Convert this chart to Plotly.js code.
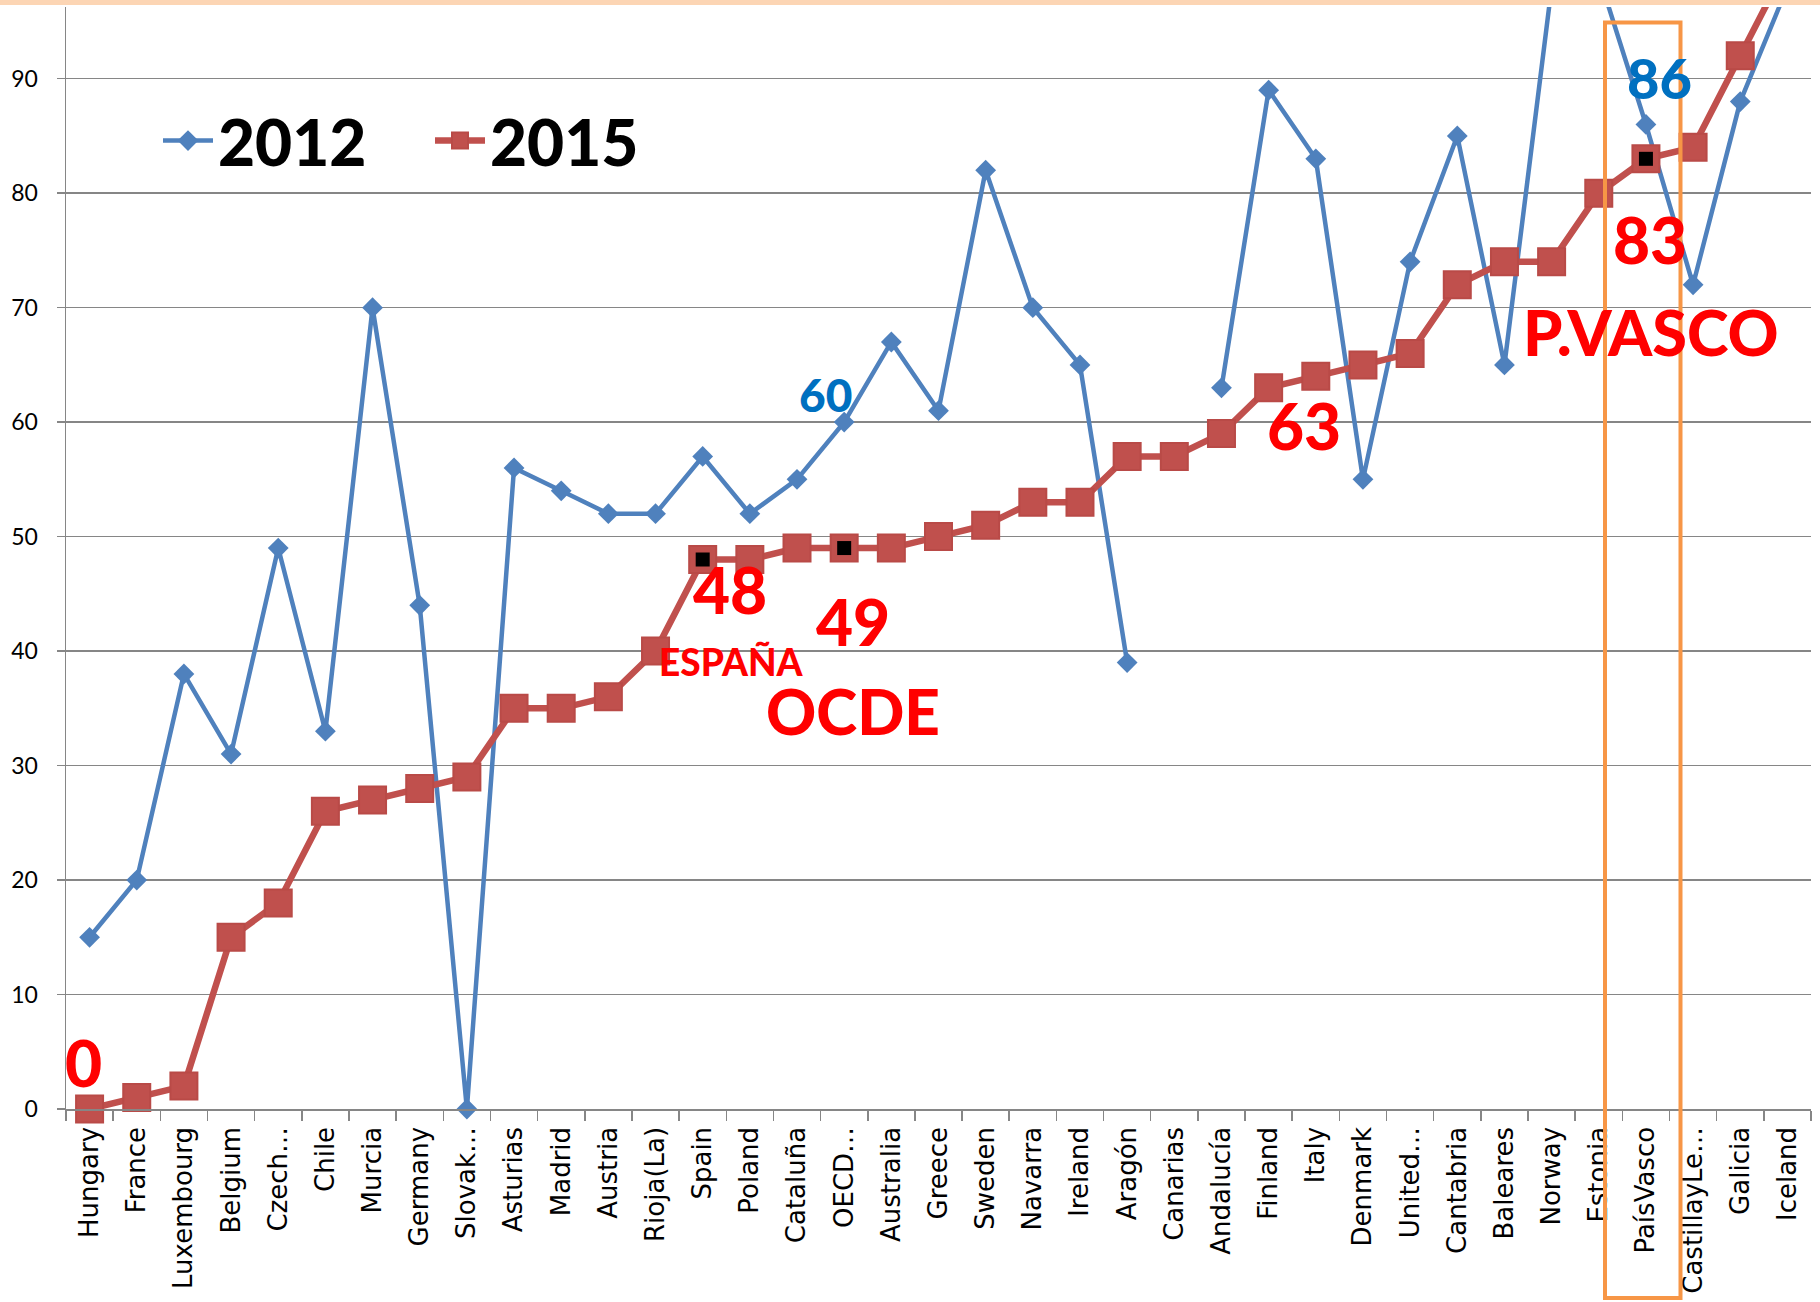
<!DOCTYPE html>
<html>
<head>
<meta charset="utf-8">
<script src="https://cdn.plot.ly/plotly-3.0.1.min.js"></script>
<style>
  html, body { margin: 0; padding: 0; background: #ffffff; }
  #chart { width: 1820px; height: 1302px; }
</style>
</head>
<body>
<div id="chart"></div>
<script>
// ---------------- data ----------------
const categories = ["Hungary","France","Luxembourg","Belgium","Czech…","Chile","Murcia","Germany","Slovak…",
  "Asturias","Madrid","Austria","Rioja(La)","Spain","Poland","Cataluña","OECD…","Australia","Greece","Sweden",
  "Navarra","Ireland","Aragón","Canarias","Andalucía","Finland","Italy","Denmark","United…","Cantabria",
  "Baleares","Norway","Estonia","PaísVasco","CastillayLe…","Galicia","Iceland"];
const values2012 = [15,20,38,31,49,33,70,44,0,56,54,52,52,57,52,55,60,67,61,82,70,65,39,null,63,89,83,55,74,85,65,98,99,86,72,88,98];
const values2015 = [0,1,2,15,18,26,27,28,29,35,35,36,40,48,48,49,49,49,50,51,53,53,57,57,59,63,64,65,66,72,74,74,80,83,84,92,100];
const seriesNames = ["2012", "2015"];
const highlighted = ["Spain", "OECD…", "PaísVasco"];
const yTicks = [0,10,20,30,40,50,60,70,80,90];

// ---------------- styles / geometry ----------------
const W = 1820, H = 1302, L = 66, R = 9, T = 7, B = 193;
const PW = W - L - R, PH = H - T - B;
const px = x => (x - L) / PW;
const py = y => (H - B - y) / PH;
const BLUE = '#4F81BD', RED = '#C0504D', TXTRED = '#FF0000', TXTBLUE = '#0070C0', GRID = '#868686';
const BIG = 'Lato, "Open Sans", sans-serif';

const hiVals = highlighted.map(c => values2015[categories.indexOf(c)]);

const traces = [
  {
    x: categories, y: values2012, name: seriesNames[0], type: 'scatter', mode: 'lines+markers',
    connectgaps: false, cliponaxis: false,
    line: {color: BLUE, width: 4.5},
    marker: {symbol: 'diamond', size: 16, color: BLUE}
  },
  {
    x: categories, y: values2015, name: seriesNames[1], type: 'scatter', mode: 'lines+markers',
    cliponaxis: false,
    line: {color: RED, width: 6.5},
    marker: {symbol: 'square', size: 27, color: RED, line: {color: '#B94A47', width: 2}}
  },
  {
    x: highlighted, y: hiVals, type: 'scatter', mode: 'markers', showlegend: false, hoverinfo: 'skip',
    cliponaxis: false,
    marker: {symbol: 'square', size: 14, color: '#000000'}
  }
];

const labelSpecs = [
  {text: '0',       x: 83,     y: 1062, size: 64, color: TXTRED},
  {text: '48',      x: 730,    y: 590,  size: 64, color: TXTRED},
  {text: 'ESPAÑA',  x: 731,    y: 661,  size: 37, color: TXTRED},
  {text: '49',      x: 853,    y: 621,  size: 64, color: TXTRED},
  {text: 'OCDE',    x: 853,    y: 711,  size: 62, color: TXTRED},
  {text: '60',      x: 825,    y: 395,  size: 46, color: TXTBLUE},
  {text: '63',      x: 1304,   y: 425,  size: 64, color: TXTRED},
  {text: '86',      x: 1659,   y: 77,   size: 56, color: TXTBLUE},
  {text: '83',      x: 1650,   y: 239,  size: 64, color: TXTRED},
  {text: 'P.VASCO', x: 1651,   y: 331,  size: 63, color: TXTRED}
];

const annotations = labelSpecs.map(s => ({
  text: s.text, xref: 'paper', yref: 'paper', x: px(s.x), y: py(s.y),
  xanchor: 'center', yanchor: 'middle', showarrow: false,
  font: {family: BIG, size: s.size, color: s.color, weight: 900}
}));

const layout = {
  width: W, height: H,
  margin: {l: L, r: R, t: T, b: B, pad: 0},
  paper_bgcolor: '#ffffff', plot_bgcolor: '#ffffff',
  showlegend: true,
  legend: {
    orientation: 'h', x: px(158), y: py(141), xanchor: 'left', yanchor: 'middle',
    font: {family: BIG, size: 64, color: '#000000', weight: 900},
    itemwidth: 50, entrywidth: 207, bgcolor: 'rgba(0,0,0,0)', traceorder: 'normal'
  },
  xaxis: {
    type: 'category', range: [-0.5, categories.length - 0.5],
    showline: true, linecolor: GRID, linewidth: 1.5,
    ticks: 'outside', tickson: 'boundaries', ticklen: 10, tickcolor: GRID, tickwidth: 1.5,
    showgrid: false, tickangle: -90, ticklabelstandoff: 6,
    tickfont: {family: '"DejaVu Sans", Verdana, sans-serif', size: 26, color: '#000000'},
    fixedrange: true
  },
  yaxis: {
    range: [0, PH / 11.448], tickmode: 'array', tickvals: yTicks, ticktext: yTicks.map(String),
    showline: true, linecolor: GRID, linewidth: 1.5,
    ticks: 'outside', ticklen: 8, tickcolor: GRID, tickwidth: 1.5,
    showgrid: true, gridcolor: GRID, gridwidth: 1.5, zeroline: false,
    ticklabelstandoff: 14,
    tickfont: {family: BIG, size: 23, color: '#000000'},
    fixedrange: true
  },
  shapes: [
    {type: 'rect', xref: 'paper', yref: 'paper', x0: px(0), x1: px(W), y0: py(5), y1: py(0),
     fillcolor: '#FCD5B4', line: {width: 0}, layer: 'above'},
    {type: 'rect', xref: 'paper', yref: 'paper', x0: px(1605), x1: px(1680.5), y0: py(1298), y1: py(22.5),
     fillcolor: 'rgba(0,0,0,0)', line: {color: '#F79646', width: 4}, layer: 'above'}
  ],
  annotations: annotations
};

Plotly.newPlot('chart', traces, layout, {displayModeBar: false, staticPlot: true});
</script>
</body>
</html>
